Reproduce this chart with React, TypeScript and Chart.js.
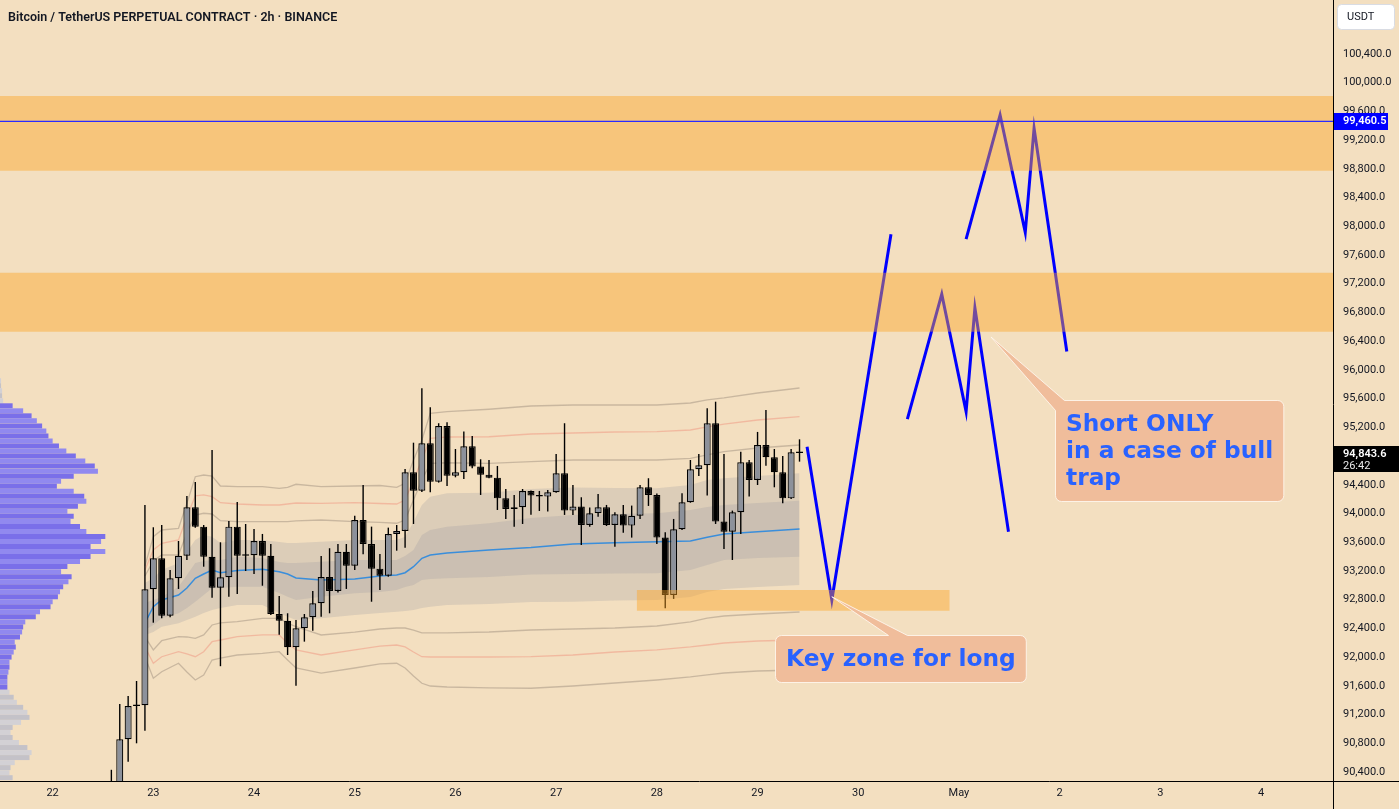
import { useEffect, useRef } from 'react';
import { Chart, registerables } from 'chart.js';

Chart.register(...registerables);

const TITLE = 'Bitcoin / TetherUS PERPETUAL CONTRACT · 2h · BINANCE';
const QUOTE_CCY = 'USDT';
const BG = '#F3DFC0';
const INK = '#131722';

// Visible window: x in 2h bars (bar 0 = 23 Apr 00:00), y in USDT
const X_MIN = -18.27;
const X_MAX = 140.57;
const Y_MIN = 90274;
const Y_MAX = 101152;

const DAY_TICK_BARS = [-12, 0, 12, 24, 36, 48, 60, 72, 84, 96, 108, 120, 132];
const DAY_TICK_LABELS = ['22', '23', '24', '25', '26', '27', '28', '29', '30', 'May', '2', '3', '4'];
const PRICE_TICKS = [
  90400, 90800, 91200, 91600, 92000, 92400, 92800, 93200, 93600, 94000, 94400, 94800, 95200,
  95600, 96000, 96400, 96800, 97200, 97600, 98000, 98400, 98800, 99200, 99600, 100000, 100400,
];

// 2h candles, first one at bar -5
const FIRST_BAR = -5;
const OPEN = [
  90080, 90250, 90855, 91319, 91329, 92944, 93376, 92577, 93097, 93412, 94087, 93817, 93398, 92966,
  93111, 93817, 93412, 93420, 93617, 93412, 92600, 92507, 92136, 92401, 92555, 92749, 93116, 92921,
  93468, 93273, 93909, 93575, 93232, 93134, 93715, 93757, 94574, 94318, 94978, 94443, 95219, 94527,
  94574, 94936, 94653, 94541, 94499, 94211, 94063, 94087, 94314, 94249, 94235, 94295, 94560, 94040,
  94096, 93840, 94003, 94087, 93840, 93989, 93831, 93969, 94365, 94258, 93664, 92865, 93780, 94156,
  94616, 94672, 95257, 93887, 93747, 94017, 94713, 94467, 94954, 94783, 94574, 94211, 94852,
];
const HIGH = [
  90430, 91347, 91458, 91667, 94119, 93808, 93840, 93213, 93617, 94244, 94439, 93840, 94885, 93599,
  93896, 94160, 93854, 93784, 93715, 93575, 92851, 92610, 92517, 92600, 92921, 93408, 93516, 93575,
  93575, 93969, 94397, 93817, 93436, 93803, 93840, 94620, 94986, 95744, 95479, 95257, 95270, 94898,
  95141, 95079, 94755, 94745, 94662, 94341, 94258, 94341, 94320, 94314, 94328, 94829, 95257, 94397,
  94226, 94082, 94272, 94119, 94017, 94119, 94110, 94397, 94491, 94280, 93738, 93924, 94282, 94745,
  94829, 95465, 95557, 94829, 94040, 94861, 94745, 95136, 95442, 94898, 94801, 94898, 95033,
];
const LOW = [
  89950, 90180, 90543, 90799, 90975, 92479, 92540, 92555, 92949, 93352, 93800, 93259, 92827, 91873,
  92841, 92879, 93199, 93157, 92994, 92586, 92312, 92029, 91602, 92215, 92368, 92563, 92610, 92900,
  92949, 93213, 93432, 92771, 92935, 93120, 93482, 93524, 93854, 94300, 94296, 94430, 94384, 94504,
  94481, 94630, 94258, 94490, 94049, 93924, 93817, 93854, 93983, 94035, 94026, 94290, 93980, 93980,
  93561, 93817, 93956, 93826, 93538, 93733, 93664, 93924, 94105, 93575, 92680, 92810, 93770, 94150,
  94522, 94249, 93854, 93506, 93352, 93715, 94235, 94397, 94666, 94365, 94142, 94202, 94722,
];
const CLOSE = [
  90250, 90855, 91319, 91335, 92944, 93376, 92577, 93097, 93412, 94087, 93817, 93398, 92966, 93111,
  93817, 93412, 93420, 93617, 93412, 92600, 92507, 92136, 92401, 92555, 92749, 93116, 92921, 93468,
  93273, 93909, 93575, 93232, 93134, 93715, 93757, 94574, 94318, 94978, 94443, 95219, 94527, 94574,
  94936, 94653, 94541, 94499, 94211, 94063, 94087, 94314, 94249, 94235, 94295, 94560, 94040, 94096,
  93840, 94003, 94087, 93840, 93989, 93831, 93969, 94365, 94258, 93664, 92865, 93780, 94156, 94616,
  94672, 95257, 93887, 93747, 94017, 94713, 94467, 94954, 94783, 94574, 94211, 94852, 94843.6,
];
const LAST_PRICE = 94843.6;
const BAR_COUNTDOWN = '26:42';
const ALERT_LINE_PRICE = 99460.5;

// Anchored VWAP with deviation bands, sampled at these bars
const BAND_BARS = [-1, 0, 1, 3, 4, 5, 6, 7, 8, 10, 13, 15, 16, 17, 20, 24, 27, 29, 30, 31, 32, 33, 35, 40, 45, 50, 55, 60, 64, 66, 68, 72, 77];
const VWAP = [92475, 92702, 92795, 92865, 92962, 93098, 93157, 93213, 93175, 93206, 93223, 93189, 93157, 93102, 93074, 93088, 93130, 93143, 93175, 93259, 93376, 93422, 93450, 93492, 93526, 93575, 93593, 93607, 93617, 93669, 93714, 93746, 93784];
const SHADE_OUTER_TOP = [93032, 93102, 93213, 93311, 93464, 93631, 93701, 93677, 93589, 93631, 93631, 93603, 93589, 93589, 93607, 93631, 93631, 93631, 93677, 93882, 94118, 94234, 94281, 94290, 94341, 94362, 94355, 94351, 94397, 94467, 94490, 94522, 94560];
const SHADE_INNER_TOP = [92753, 92795, 92837, 92976, 93143, 93311, 93338, 93352, 93352, 93398, 93380, 93324, 93311, 93311, 93329, 93352, 93352, 93352, 93408, 93492, 93701, 93770, 93816, 93864, 93937, 93979, 93993, 94003, 94049, 94090, 94118, 94146, 94178];
const SHADE_INNER_BOTTOM = [92377, 92447, 92540, 92610, 92684, 92771, 92865, 92958, 92962, 92980, 92980, 92893, 92841, 92795, 92841, 92889, 92907, 92934, 92976, 93004, 93074, 93088, 93098, 93116, 93150, 93157, 93164, 93166, 93213, 93283, 93352, 93380, 93398];
const SHADE_OUTER_BOTTOM = [92308, 92349, 92423, 92471, 92517, 92562, 92614, 92656, 92684, 92726, 92726, 92614, 92562, 92517, 92540, 92586, 92614, 92632, 92642, 92656, 92684, 92702, 92726, 92740, 92767, 92771, 92788, 92795, 92837, 92907, 92948, 92976, 93004];
const UPPER_1 = [93130, 93338, 93422, 93422, 93728, 93979, 94003, 93993, 93900, 93886, 93886, 93886, 93886, 93896, 93909, 93886, 93875, 93864, 93909, 94188, 94467, 94699, 94707, 94699, 94721, 94745, 94745, 94745, 94769, 94815, 94861, 94912, 94954];
const UPPER_2 = [93213, 93492, 93585, 93631, 93955, 94244, 94258, 94234, 94150, 94132, 94118, 94118, 94132, 94146, 94141, 94150, 94139, 94132, 94188, 94467, 94745, 95048, 95065, 95069, 95107, 95121, 95135, 95139, 95163, 95205, 95246, 95302, 95348];
const UPPER_3 = [93269, 93677, 93770, 93794, 94141, 94512, 94536, 94522, 94383, 94373, 94373, 94351, 94365, 94407, 94373, 94383, 94390, 94365, 94421, 94745, 95024, 95396, 95418, 95452, 95497, 95511, 95511, 95511, 95539, 95581, 95609, 95678, 95748];
const LOWER_1 = [92280, 92099, 92228, 92284, 92280, 92262, 92308, 92447, 92475, 92493, 92540, 92540, 92471, 92423, 92308, 92349, 92391, 92405, 92405, 92377, 92336, 92336, 92336, 92349, 92377, 92391, 92405, 92433, 92489, 92544, 92572, 92600, 92628];
const LOWER_2 = [92141, 91914, 92005, 92075, 92043, 92005, 92075, 92214, 92238, 92284, 92308, 92308, 92192, 92099, 92029, 92099, 92154, 92168, 92141, 92071, 92005, 92001, 92001, 92001, 92005, 92029, 92071, 92099, 92141, 92168, 92196, 92224, 92238];
const LOWER_3 = [92001, 91705, 91796, 91914, 91792, 91681, 91751, 91959, 91987, 92029, 92053, 92075, 91959, 91848, 91778, 91848, 91904, 91914, 91848, 91737, 91635, 91597, 91583, 91570, 91566, 91597, 91639, 91681, 91723, 91751, 91778, 91806, 91820];

// Visible-range volume profile: rows of 70 USDT from the top row down
const PROFILE_TOP_PRICE = 95850;
const PROFILE_ROW_SIZE = 70;
const PROFILE_VOLUME = [
  1, 1, 2, 2, 3, 12, 22, 30, 35, 40, 44, 46, 50, 56, 63, 72, 81, 90, 93, 70,
  58, 54, 70, 80, 82, 74, 64, 70, 67, 76, 82, 100, 96, 86, 100, 86, 76, 64, 58, 68,
  65, 60, 57, 55, 50, 48, 38, 34, 24, 22, 21, 19, 14, 15, 13, 11, 9, 9, 8, 7,
  7, 7, 9, 13, 16, 22, 26, 28, 20, 12, 10, 12, 18, 26, 30, 28, 14, 10, 9, 12,
];
const VALUE_AREA_HIGH = 95500;
const VALUE_AREA_LOW = 91580;
const PROFILE_WIDTH_SHARE = 0.079;

// Supply zones across the whole window, and the long zone
const UPPER_ZONE = [99815, 98775];
const MIDDLE_ZONE = [97354, 96532];
const LONG_ZONE = [92934, 92645];
const LONG_ZONE_BARS = [57.6, 94.9];

// Projected paths drawn with the brush
const PATH_A_BARS = [77.9, 80.85, 87.9];
const PATH_A_PRICES = [94930, 92795, 97890];
const PATH_B_BARS = [89.85, 93.95, 96.85, 97.9, 101.9];
const PATH_B_PRICES = [95315, 97055, 95420, 96865, 93745];
const PATH_C_BARS = [96.85, 100.9, 103.9, 104.95, 108.85];
const PATH_C_PRICES = [97820, 99550, 97915, 99365, 96255];

// Callouts
const LONG_NOTE = { lines: ['Key zone for long'], boxBar: 74.08, boxPrice: 92308, tipBar: 80.85, tipPrice: 92840 };
const SHORT_NOTE = { lines: ['Short ONLY', 'in a case of bull', 'trap'], boxBar: 107.45, boxPrice: 95581, tipBar: 99.82, tipPrice: 96458 };

const ZONE_FILL = 'rgba(252,166,39,0.45)';
const NOTE_FILL = '#F0BD9B';
const NOTE_TEXT = '#2962FF';
const NOTE_FONT = 'bold 23.3px "DejaVu Sans"';
const UP_BODY = '#8C919B';
const DOWN_BODY = '#000000';

const fmtPrice = (v: number) =>
  v.toLocaleString('en-US', { minimumFractionDigits: 1, maximumFractionDigits: 1 });

const pts = (xs: number[], ys: number[]) => xs.map((x, i) => ({ x, y: ys[i] }));

function roundRectPath(ctx: CanvasRenderingContext2D, l: number, t: number, w: number, h: number, r: number) {
  ctx.beginPath();
  ctx.moveTo(l + r, t);
  ctx.lineTo(l + w - r, t);
  ctx.arcTo(l + w, t, l + w, t + r, r);
  ctx.lineTo(l + w, t + h - r);
  ctx.arcTo(l + w, t + h, l + w - r, t + h, r);
  ctx.lineTo(l + r, t + h);
  ctx.arcTo(l, t + h, l, t + h - r, r);
  ctx.lineTo(l, t + r);
  ctx.arcTo(l, t, l + r, t, r);
  ctx.closePath();
}

function drawNote(ctx: CanvasRenderingContext2D, chart: any, note: any, pointer: 'top' | 'corner') {
  const xs = chart.scales.x;
  const ys = chart.scales.y;
  ctx.font = NOTE_FONT;
  const textW = Math.max(...note.lines.map((s: string) => ctx.measureText(s).width));
  const w = textW + 21;
  const lh = 27;
  const h = 30 + (note.lines.length - 1) * lh + 17;
  const l = Math.round(xs.getPixelForValue(note.boxBar)) + 0.5;
  const t = Math.round(ys.getPixelForValue(note.boxPrice)) + 0.5;
  const tx = xs.getPixelForValue(note.tipBar);
  const ty = ys.getPixelForValue(note.tipPrice);
  const r = 6;
  ctx.beginPath();
  if (pointer === 'top') {
    const b1 = l + 113;
    const b2 = l + 132;
    ctx.moveTo(l + r, t);
    ctx.lineTo(b1, t);
    ctx.lineTo(tx, ty);
    ctx.lineTo(b2, t);
    ctx.lineTo(l + w - r, t);
    ctx.arcTo(l + w, t, l + w, t + r, r);
    ctx.lineTo(l + w, t + h - r);
    ctx.arcTo(l + w, t + h, l + w - r, t + h, r);
    ctx.lineTo(l + r, t + h);
    ctx.arcTo(l, t + h, l, t + h - r, r);
    ctx.lineTo(l, t + r);
    ctx.arcTo(l, t, l + r, t, r);
  } else {
    ctx.moveTo(l + 9, t);
    ctx.lineTo(l + w - r, t);
    ctx.arcTo(l + w, t, l + w, t + r, r);
    ctx.lineTo(l + w, t + h - r);
    ctx.arcTo(l + w, t + h, l + w - r, t + h, r);
    ctx.lineTo(l + r, t + h);
    ctx.arcTo(l, t + h, l, t + h - r, r);
    ctx.lineTo(l, t + 10);
    ctx.lineTo(tx, ty);
  }
  ctx.closePath();
  ctx.fillStyle = NOTE_FILL;
  ctx.fill();
  ctx.strokeStyle = 'rgba(255,248,240,0.85)';
  ctx.lineWidth = 1;
  ctx.stroke();
  ctx.fillStyle = NOTE_TEXT;
  ctx.textAlign = 'left';
  ctx.textBaseline = 'alphabetic';
  note.lines.forEach((s: string, i: number) => ctx.fillText(s, l + 10.5, t + 30 + i * lh));
}

const decorPlugin = {
  id: 'decor',
  beforeDraw(chart: any) {
    const { ctx, width, height } = chart;
    ctx.save();
    ctx.fillStyle = BG;
    ctx.fillRect(0, 0, width, height);
    ctx.restore();
  },
  afterDraw(chart: any) {
    const { ctx, width, height, chartArea } = chart;
    const ys = chart.scales.y;
    ctx.save();

    drawNote(ctx, chart, LONG_NOTE, 'top');
    drawNote(ctx, chart, SHORT_NOTE, 'corner');

    // pane borders
    ctx.strokeStyle = '#000';
    ctx.lineWidth = 1;
    ctx.beginPath();
    ctx.moveTo(chartArea.right + 0.5, 0);
    ctx.lineTo(chartArea.right + 0.5, height);
    ctx.moveTo(0, chartArea.bottom + 0.5);
    ctx.lineTo(width, chartArea.bottom + 0.5);
    ctx.stroke();

    // symbol title
    ctx.font = '600 12.5px Roboto';
    ctx.fillStyle = INK;
    ctx.textAlign = 'left';
    ctx.textBaseline = 'alphabetic';
    ctx.fillText(TITLE, 8, 21);

    // currency button
    roundRectPath(ctx, chartArea.right + 4.5, 4.5, 57, 25, 4);
    ctx.fillStyle = '#FFFFFF';
    ctx.fill();
    ctx.strokeStyle = '#D9DCE3';
    ctx.stroke();
    ctx.fillStyle = INK;
    ctx.font = '11px Roboto';
    ctx.textBaseline = 'middle';
    ctx.fillText(QUOTE_CCY, chartArea.right + 14, 17.5);

    // alert line price tag
    const ya = ys.getPixelForValue(ALERT_LINE_PRICE);
    ctx.fillStyle = '#0000FF';
    ctx.fillRect(chartArea.right + 1, Math.round(ya) - 8, 54, 17);
    ctx.fillStyle = '#FFFFFF';
    ctx.font = '600 11px Roboto';
    ctx.fillText(fmtPrice(ALERT_LINE_PRICE), chartArea.right + 10, Math.round(ya) + 0.5);

    // last price tag with countdown
    const yl = ys.getPixelForValue(LAST_PRICE);
    ctx.fillStyle = '#000000';
    ctx.fillRect(chartArea.right + 1, Math.round(yl) - 7, width - chartArea.right - 1, 26);
    ctx.fillStyle = '#FFFFFF';
    ctx.font = '600 11px Roboto';
    ctx.fillText(fmtPrice(LAST_PRICE), chartArea.right + 10, Math.round(yl) + 1.5);
    ctx.fillStyle = '#E8E8E8';
    ctx.font = '11px Roboto';
    ctx.fillText(BAR_COUNTDOWN, chartArea.right + 10, Math.round(yl) + 13.5);

    ctx.restore();
  },
};

function buildDatasets() {
  const ds: any[] = [];
  const push = (d: any) => {
    ds.push(d);
    return ds.length - 1;
  };
  const flatLine = (x0: number, x1: number, y: number) => [{ x: x0, y }, { x: x1, y }];

  // volume profile (horizontal bars against the price axis)
  const profileRows = PROFILE_VOLUME.map((v, k) => ({ x: v, y: PROFILE_TOP_PRICE - k * PROFILE_ROW_SIZE }));
  push({
    type: 'bar',
    indexAxis: 'y',
    xAxisID: 'xv',
    yAxisID: 'y',
    data: profileRows,
    backgroundColor: profileRows.map((r, k) =>
      r.y <= VALUE_AREA_HIGH && r.y >= VALUE_AREA_LOW ? (k % 2 ? '#7A6FE9' : '#9189EF') : (k % 2 ? '#C4C2C8' : '#D3D1D5'),
    ),
    borderWidth: 0,
    barThickness: 5,
    grouped: false,
    inflateAmount: 0,
    order: 9,
  });

  // deviation band shading
  const band = (arr: number[]) => pts(BAND_BARS, arr);
  const lb = push({ type: 'line', data: band(SHADE_OUTER_BOTTOM), borderWidth: 0, pointRadius: 0, order: 8 });
  push({ type: 'line', data: band(SHADE_OUTER_TOP), borderWidth: 0, pointRadius: 0, fill: lb, backgroundColor: 'rgba(150,150,160,0.25)', order: 8 });
  const db = push({ type: 'line', data: band(SHADE_INNER_BOTTOM), borderWidth: 0, pointRadius: 0, order: 7 });
  push({ type: 'line', data: band(SHADE_INNER_TOP), borderWidth: 0, pointRadius: 0, fill: db, backgroundColor: 'rgba(150,150,160,0.25)', order: 7 });

  const bandLine = (arr: number[], color: string, width = 1.3) =>
    push({ type: 'line', data: band(arr), borderColor: color, borderWidth: width, pointRadius: 0, fill: false, order: 6 });
  const GREY_LINE = 'rgba(150,135,120,0.45)';
  const PINK_LINE = 'rgba(240,140,120,0.45)';
  bandLine(UPPER_3, GREY_LINE);
  bandLine(UPPER_2, PINK_LINE);
  bandLine(UPPER_1, GREY_LINE);
  bandLine(LOWER_1, GREY_LINE);
  bandLine(LOWER_2, PINK_LINE);
  bandLine(LOWER_3, GREY_LINE);
  bandLine(VWAP, '#3A8EDB', 1.5);

  // candles: wicks under bodies
  const bars = OPEN.map((_, i) => FIRST_BAR + i);
  push({
    type: 'bar',
    data: bars.map((x, i) => ({ x, y: [LOW[i], HIGH[i]] })),
    backgroundColor: '#000000',
    borderWidth: 0,
    barThickness: 1.4,
    grouped: false,
    inflateAmount: 0,
    order: 5,
  });
  push({
    type: 'bar',
    data: bars.map((x, i) => ({ x, y: [OPEN[i], CLOSE[i]] })),
    backgroundColor: bars.map((_, i) => (CLOSE[i] >= OPEN[i] ? UP_BODY : DOWN_BODY)),
    borderColor: '#000000',
    borderWidth: 1.2,
    borderSkipped: false,
    barThickness: 7,
    minBarLength: 1.5,
    grouped: false,
    inflateAmount: 0,
    order: 4,
  });

  // projected paths
  const path = (xs: number[], ys: number[]) =>
    push({ type: 'line', data: pts(xs, ys), borderColor: '#0000FF', borderWidth: 3, pointRadius: 0, borderJoinStyle: 'miter', borderCapStyle: 'butt', fill: false, order: 3 });
  path(PATH_A_BARS, PATH_A_PRICES);
  path(PATH_B_BARS, PATH_B_PRICES);
  path(PATH_C_BARS, PATH_C_PRICES);

  // zones
  const zone = (tb: number[], x0: number, x1: number) => {
    const b = push({ type: 'line', data: flatLine(x0, x1, tb[1]), borderWidth: 0, pointRadius: 0, order: 2 });
    push({ type: 'line', data: flatLine(x0, x1, tb[0]), borderWidth: 0, pointRadius: 0, fill: b, backgroundColor: ZONE_FILL, order: 2 });
  };
  zone(UPPER_ZONE, X_MIN, X_MAX);
  zone(MIDDLE_ZONE, X_MIN, X_MAX);
  zone(LONG_ZONE, LONG_ZONE_BARS[0], LONG_ZONE_BARS[1]);

  // alert line
  push({ type: 'line', data: flatLine(X_MIN, X_MAX, ALERT_LINE_PRICE), borderColor: '#2A2AFF', borderWidth: 1.3, pointRadius: 0, fill: false, order: 0 });

  return ds;
}

export default function App() {
  const ref = useRef<HTMLCanvasElement>(null);

  useEffect(() => {
    const canvas = ref.current;
    if (!canvas) return;
    Chart.defaults.font.family = 'Roboto';
    const chart = new Chart(canvas, {
      type: 'line',
      data: { datasets: buildDatasets() },
      options: {
        responsive: false,
        animation: false,
        devicePixelRatio: 1,
        events: [],
        layout: { padding: 0, autoPadding: false },
        plugins: { legend: { display: false }, tooltip: { enabled: false }, title: { display: false } },
        scales: {
          x: {
            type: 'linear',
            position: 'bottom',
            min: X_MIN,
            max: X_MAX,
            offset: false,
            grid: { display: false, drawTicks: false },
            border: { display: false },
            afterBuildTicks: (s: any) => {
              s.ticks = DAY_TICK_BARS.map((value) => ({ value }));
            },
            afterFit: (s: any) => {
              s.height = 28;
              s.paddingLeft = 0;
              s.paddingRight = 0;
            },
            ticks: {
              autoSkip: false,
              maxRotation: 0,
              padding: 6,
              color: INK,
              font: { family: 'Roboto', size: 11 },
              callback: (_v: any, i: number) => DAY_TICK_LABELS[i],
            },
          },
          y: {
            type: 'linear',
            position: 'right',
            min: Y_MIN,
            max: Y_MAX,
            offset: false,
            beginAtZero: false,
            grid: { display: false, drawTicks: false },
            border: { display: false },
            afterBuildTicks: (s: any) => {
              s.ticks = PRICE_TICKS.map((value) => ({ value }));
            },
            afterFit: (s: any) => {
              s.width = 66;
              s.paddingTop = 0;
              s.paddingBottom = 0;
            },
            ticks: {
              padding: 10,
              crossAlign: 'near',
              color: INK,
              font: { family: 'Roboto', size: 11 },
              callback: (v: any) => fmtPrice(Number(v)),
            },
          },
          xv: {
            type: 'linear',
            axis: 'x',
            display: false,
            min: 0,
            max: Math.max(...PROFILE_VOLUME) / PROFILE_WIDTH_SHARE,
            offset: false,
          },
        },
      } as any,
      plugins: [decorPlugin],
    });
    return () => chart.destroy();
  }, []);

  return (
    <div style={{ position: 'fixed', left: 0, top: 0, width: 1399, height: 809, background: BG }}>
      <canvas ref={ref} width={1399} height={809} style={{ display: 'block', width: 1399, height: 809 }} />
    </div>
  );
}
